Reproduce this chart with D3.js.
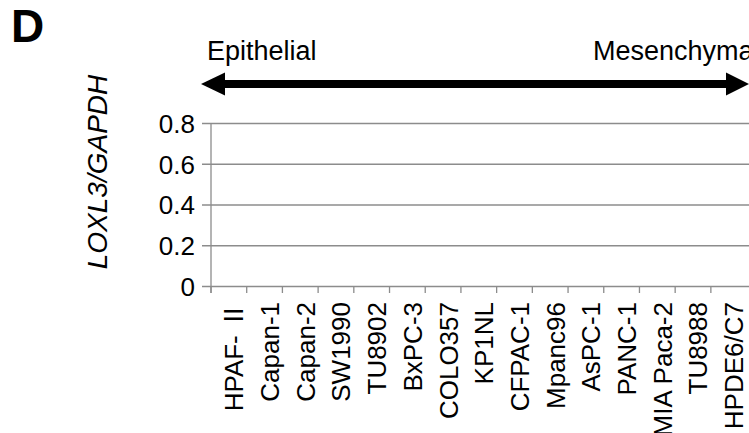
<!DOCTYPE html>
<html>
<head>
<meta charset="utf-8">
<script src="https://cdn.jsdelivr.net/npm/d3@7"></script>
<style>
  body { margin: 0; background: #fff; }
  text { font-family: "Liberation Sans", Arial, sans-serif; fill: #000; }
  .roman { font-family: "Noto Sans CJK JP", "Liberation Sans", sans-serif; }
</style>
</head>
<body>
<div id="chart"></div>
<script>
// cell lines, ordered epithelial -> mesenchymal
var cellLines = ["HPAF- \u2161", "Capan-1", "Capan-2", "SW1990", "TU8902", "BxPC-3", "COLO357",
    "KP1NL", "CFPAC-1", "Mpanc96", "AsPC-1", "PANC-1", "MIA Paca-2", "TU8988", "HPDE6/C7"]
// no bars are visible in the panel
var loxl3 = [0, 0, 0, 0, 0, 0, 0, 0, 0, 0, 0, 0, 0, 0, 0]
var yTicks = [0, 0.2, 0.4, 0.6, 0.8]

var fullWidth = 749
var fullHeight = 433
var margin = { top: 123, left: 211, bottom: 147 }
var height = fullHeight - margin.top - margin.bottom
var bandW = 36.3

var svg = d3.select("#chart").append("svg")
    .attr("width", fullWidth)
    .attr("height", fullHeight)

var x = d3.scaleBand()
    .domain(cellLines)
    .range([margin.left, margin.left + bandW * cellLines.length])
    .padding(0.25)

var y = d3.scaleLinear().domain([0, 0.8]).range([margin.top + height, margin.top])

// panel letter
svg.append("text")
    .attr("x", 11)
    .attr("y", 42)
    .style("font-size", "46px")
    .style("font-weight", "bold")
    .text("D")

// gridlines + y axis
var yAxis = d3.axisLeft(y)
    .tickValues(yTicks)
    .tickFormat(function (d) { return d === 0 ? "0" : d3.format(".1f")(d) })
    .tickSize(-(fullWidth - margin.left))
    .tickPadding(16)

var gy = svg.append("g")
    .attr("transform", "translate(" + margin.left + ",0)")
    .call(yAxis)
gy.select(".domain").remove()
gy.selectAll(".tick line")
    .attr("x1", -9)
    .attr("stroke", "#8c8c8c")
    .attr("stroke-width", 1.3)
gy.selectAll(".tick text")
    .style("font-size", "26px")
    .attr("dy", "0.36em")

// vertical axis line
svg.append("line")
    .attr("x1", margin.left).attr("x2", margin.left)
    .attr("y1", y(0.8)).attr("y2", y(0) + 7)
    .attr("stroke", "#8c8c8c")
    .attr("stroke-width", 1.3)

// category ticks at band boundaries
var bounds = cellLines.map(function (d) { return x(d) - x.step() * x.paddingOuter() })
svg.selectAll(".cattick")
    .data(bounds)
    .enter()
    .append("line")
    .attr("class", "cattick")
    .attr("x1", function (d) { return d })
    .attr("x2", function (d) { return d })
    .attr("y1", y(0))
    .attr("y2", y(0) + 7)
    .attr("stroke", "#8c8c8c")
    .attr("stroke-width", 1.3)

// bars (all zero)
svg.selectAll(".bar")
    .data(loxl3)
    .enter()
    .append("rect")
    .attr("class", "bar")
    .attr("x", function (d, i) { return x(cellLines[i]) })
    .attr("width", x.bandwidth())
    .attr("y", function (d) { return y(d) })
    .attr("height", function (d) { return y(0) - y(d) })
    .attr("fill", "#555")

// category labels (roman numeral gets a font that draws the barred glyph)
svg.selectAll(".catlabel")
    .data(cellLines)
    .enter()
    .append("text")
    .attr("class", "catlabel")
    .attr("transform", function (d) {
        return "translate(" + (x(d) + x.bandwidth() / 2 + 10) + "," + (y(0) + 16) + ") rotate(-90)"
    })
    .style("text-anchor", "end")
    .style("font-size", "26px")
    .each(function (d) {
        var t = d3.select(this)
        var parts = d.split("\u2161")
        t.append("tspan").text(parts[0])
        if (parts.length > 1) {
            t.append("tspan").attr("class", "roman").text("\u2161")
        }
    })

// y title
svg.append("text")
    .attr("transform", "translate(107," + 172 + ") rotate(-90)")
    .style("text-anchor", "middle")
    .style("font-size", "28px")
    .style("font-style", "italic")
    .text("LOXL3/GAPDH")

// EMT arrow
var ay = 84
svg.append("line")
    .attr("x1", 222).attr("x2", 730)
    .attr("y1", ay).attr("y2", ay)
    .attr("stroke", "#000")
    .attr("stroke-width", 8)
svg.append("path")
    .attr("d", "M201," + ay + "L225," + (ay - 11.5) + "L225," + (ay + 11.5) + "Z")
svg.append("path")
    .attr("d", "M749," + ay + "L726," + (ay - 11.5) + "L726," + (ay + 11.5) + "Z")

svg.append("text")
    .attr("x", 207)
    .attr("y", 60)
    .style("font-size", "27px")
    .text("Epithelial")
svg.append("text")
    .attr("x", 593)
    .attr("y", 60)
    .style("font-size", "27px")
    .text("Mesenchymal")
</script>
</body>
</html>
